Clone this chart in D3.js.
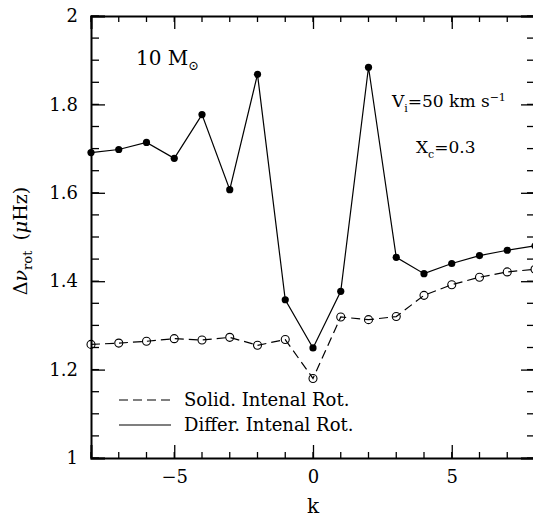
<!DOCTYPE html>
<html>
<head>
<meta charset="utf-8">
<script src="https://cdn.jsdelivr.net/npm/d3@7"></script>
<style>
  body { margin: 0; background: #fff; }
  svg { display: block; font-family: "DejaVu Serif", serif; }
  .axis text { font-size: 18px; fill: #000; }
</style>
</head>
<body>
<svg id="chart" width="533" height="517"></svg>
<script>
// k values (azimuthal order)
var kValues = [-8, -7, -6, -5, -4, -3, -2, -1, 0, 1, 2, 3, 4, 5, 6, 7, 8];
// differential internal rotation (filled dots)
var differRot = [1.691, 1.698, 1.714, 1.678, 1.777, 1.607, 1.868, 1.358, 1.249,
                 1.377, 1.884, 1.454, 1.417, 1.440, 1.458, 1.470, 1.480];
// solid-body internal rotation (open dots)
var solidRot = [1.257, 1.260, 1.264, 1.270, 1.267, 1.273, 1.255, 1.268, 1.180,
                1.319, 1.313, 1.320, 1.368, 1.392, 1.409, 1.421, 1.427];

var xMajor = [-5, 0, 5];
var xMinor = d3.range(-8, 9, 1);
var yMajor = [1, 1.2, 1.4, 1.6, 1.8, 2];
var yMinor = d3.range(1, 2.001, 0.05);

var svg = d3.select('#chart');
var x = d3.scaleLinear().domain([-8, 8]).range([91, 535]);
var y = d3.scaleLinear().domain([1, 2]).range([458, 16]);

var fmtY = function (d) { return d === 1 || d === 2 ? String(d) : d3.format('.1f')(d); };

// minor ticks (all four sides, pointing inward)
var minor = svg.append('g').attr('stroke', '#000').attr('stroke-width', 1.3);
xMinor.forEach(function (d) {
  minor.append('line').attr('x1', x(d)).attr('x2', x(d)).attr('y1', y(1)).attr('y2', y(1) - 6);
  minor.append('line').attr('x1', x(d)).attr('x2', x(d)).attr('y1', y(2)).attr('y2', y(2) + 6);
});
yMinor.forEach(function (d) {
  minor.append('line').attr('x1', x(-8)).attr('x2', x(-8) + 8).attr('y1', y(d)).attr('y2', y(d));
  minor.append('line').attr('x1', x(8)).attr('x2', x(8) - 8).attr('y1', y(d)).attr('y2', y(d));
});

// major axes
svg.append('g').attr('class', 'axis')
  .attr('transform', 'translate(0,' + y(1) + ')')
  .call(d3.axisBottom(x).tickValues(xMajor).tickSize(-13).tickPadding(12).tickFormat(d3.format('d')));
svg.append('g').attr('class', 'axis')
  .attr('transform', 'translate(0,' + y(2) + ')')
  .call(d3.axisTop(x).tickValues(xMajor).tickSize(-13).tickFormat(''));
svg.append('g').attr('class', 'axis')
  .attr('transform', 'translate(' + x(-8) + ',0)')
  .call(d3.axisLeft(y).tickValues(yMajor).tickSize(-14).tickPadding(13).tickFormat(fmtY));
svg.append('g').attr('class', 'axis')
  .attr('transform', 'translate(' + x(8) + ',0)')
  .call(d3.axisRight(y).tickValues(yMajor).tickSize(-14).tickFormat(''));

svg.selectAll('.axis .domain').attr('stroke-width', 2).attr('stroke', '#000');
svg.selectAll('.axis .tick line').attr('stroke-width', 1.3).attr('stroke', '#000');
svg.selectAll('.axis text').attr('font-family', '"DejaVu Serif", serif').attr('font-size', 18);

// data
var solidData = kValues.map(function (k, i) { return { k: k, v: solidRot[i] }; });
var differData = kValues.map(function (k, i) { return { k: k, v: differRot[i] }; });
var lineGen = d3.line()
  .x(function (d) { return x(d.k); })
  .y(function (d) { return y(d.v); });

svg.append('path').datum(solidData)
  .attr('d', lineGen).attr('fill', 'none').attr('stroke', '#000')
  .attr('stroke-width', 1.2).attr('stroke-dasharray', '9,5');
svg.append('path').datum(differData)
  .attr('d', lineGen).attr('fill', 'none').attr('stroke', '#000').attr('stroke-width', 1.2);

svg.append('g').selectAll('circle').data(solidData).join('circle')
  .attr('cx', function (d) { return x(d.k); })
  .attr('cy', function (d) { return y(d.v); })
  .attr('r', 4).attr('fill', 'none').attr('stroke', '#000').attr('stroke-width', 1.1);
svg.append('g').selectAll('circle').data(differData).join('circle')
  .attr('cx', function (d) { return x(d.k); })
  .attr('cy', function (d) { return y(d.v); })
  .attr('r', 3.6).attr('fill', '#000');

// axis labels
svg.append('text').attr('x', x(0)).attr('y', 513).attr('text-anchor', 'middle')
  .attr('font-size', 20).text('k');

var yl = svg.append('text').attr('transform', 'translate(27,241) rotate(-90)')
  .attr('text-anchor', 'middle').attr('font-size', 19);
yl.append('tspan').text('Δ');
yl.append('tspan').attr('font-style', 'italic').text('ν');
yl.append('tspan').attr('font-size', 13).attr('dy', 5).text('rot');
yl.append('tspan').attr('dy', -5).attr('dx', 10).text('(');
yl.append('tspan').attr('font-style', 'italic').text('μ');
yl.append('tspan').text('Hz)');

// annotations
var m = svg.append('text').attr('x', 136).attr('y', 65).attr('font-size', 20);
m.append('tspan').text('10  M');
m.append('tspan').attr('font-size', 13).attr('dy', 5).text('⊙');

var v = svg.append('text').attr('x', 392).attr('y', 107).attr('font-size', 17);
v.append('tspan').text('V');
v.append('tspan').attr('font-size', 11).attr('dy', 5).text('i');
v.append('tspan').attr('dy', -5).text('=50 km s');
v.append('tspan').attr('font-size', 11).attr('dy', -6).text('−1');

var xc = svg.append('text').attr('x', 416).attr('y', 153).attr('font-size', 17);
xc.append('tspan').text('X');
xc.append('tspan').attr('font-size', 11).attr('dy', 5).text('c');
xc.append('tspan').attr('dy', -5).text('=0.3');

// legend
var legend = [
  { label: 'Solid. Intenal Rot.', dash: '9,5', y: 400 },
  { label: 'Differ. Intenal Rot.', dash: null, y: 425 }
];
legend.forEach(function (l) {
  svg.append('line').attr('x1', 119).attr('x2', 171).attr('y1', l.y).attr('y2', l.y)
    .attr('stroke', '#000').attr('stroke-width', 1.2).attr('stroke-dasharray', l.dash);
  svg.append('text').attr('x', 184).attr('y', l.y + 6).attr('font-size', 18).text(l.label);
});
</script>
</body>
</html>
